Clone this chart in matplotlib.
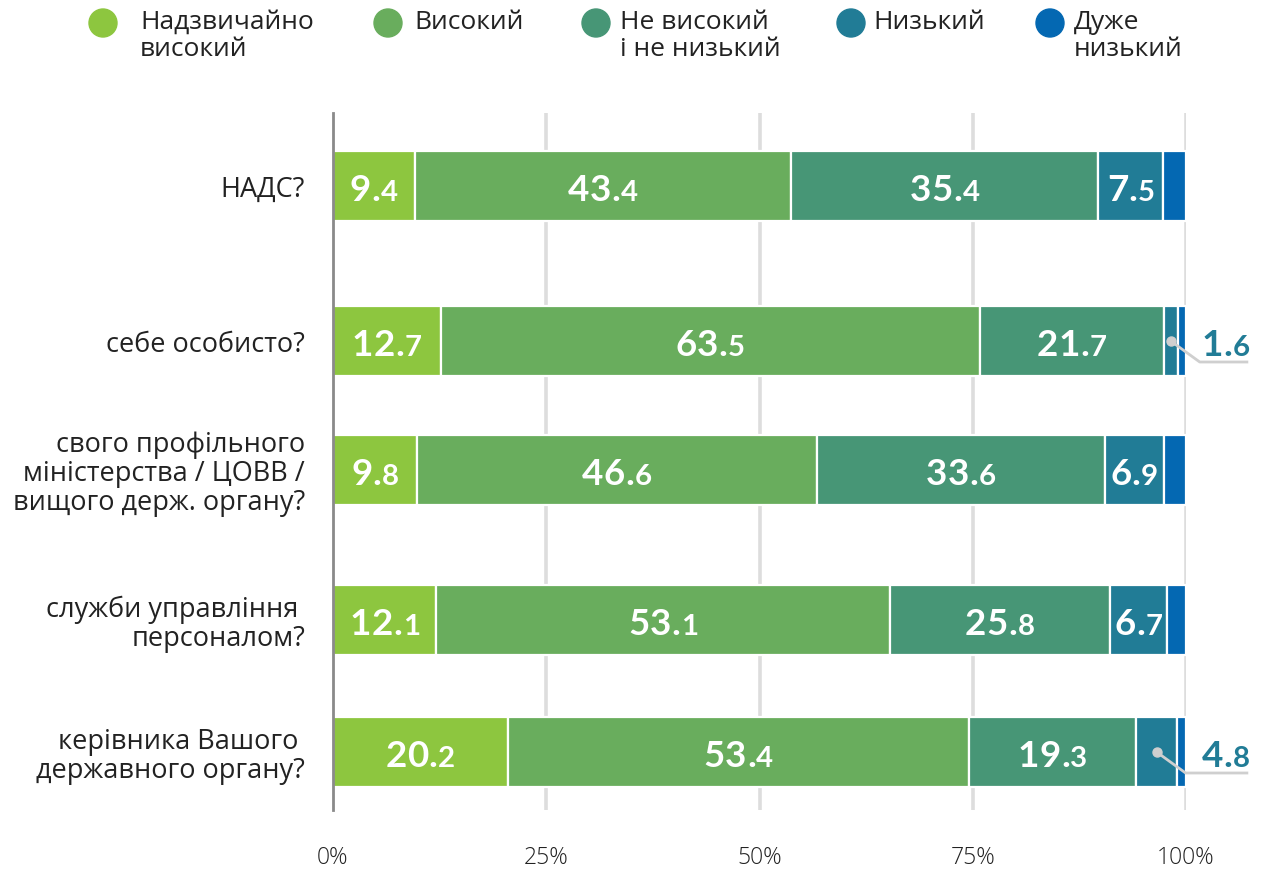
import matplotlib
matplotlib.use("Agg")
import matplotlib.pyplot as plt
from matplotlib.offsetbox import TextArea, HPacker, AnnotationBbox
import numpy as np

plt.rcParams['font.family'] = ['Open Sans', 'DejaVu Sans']

# ---- data ----
categories = [
    "НАДС?",
    "себе особисто?",
    "свого профільного\nміністерства / ЦОВВ /\nвищого держ. органу?",
    "служби управління \nперсоналом?",
    "керівника Вашого \nдержавного органу?",
]
series_names = ["Надзвичайно\nвисокий", "Високий", "Не високий\nі не низький", "Низький", "Дуже\nнизький"]
very_high = [9.4, 12.7, 9.8, 12.1, 20.2]
high = [43.4, 63.5, 46.6, 53.1, 53.4]
neutral = [35.4, 21.7, 33.6, 25.8, 19.3]
low = [7.5, 1.6, 6.9, 6.7, 4.8]
very_low = [2.6, 1.0, 2.6, 2.2, 1.0]   # unlabeled in the chart, estimated
tick_values = [0, 25, 50, 75, 100]
tick_labels = ["0%", "25%", "50%", "75%", "100%"]

# ---- style / layout ----
colors = ["#8DC63F", "#69AD5D", "#479676", "#217C96", "#0468B2"]
text_col = "#222222"
num_font = ['Lato', 'Open Sans', 'DejaVu Sans']
row_pos = [0.0, 1.55, 2.84, 4.34, 5.66]   # layout (row centres)
bar_h = 0.70

fig = plt.figure(figsize=(12.64, 8.71), dpi=100)
ax = fig.add_axes([333/1264, 61/871, 853/1264, 697/871])

series = [very_high, high, neutral, low, very_low]
vals = np.array(series, dtype=float)           # (5 series, 5 rows)
totals = vals.sum(axis=0)
shares = vals / totals * 100.0

left = np.zeros(len(categories))
for i, sv in enumerate(shares):
    ax.barh(row_pos, sv, left=left, height=bar_h, color=colors[i],
            edgecolor="white", linewidth=1.6, zorder=3)
    left = left + sv

ax.set_xlim(0, 100)
ax.set_ylim(6.24, -0.73)

# grid
for v in tick_values[1:]:
    ax.axvline(v, color="#dddddd", lw=2.6, zorder=1)
for s in ["top", "right", "bottom"]:
    ax.spines[s].set_visible(False)
ax.spines["left"].set_color("#8a8a8a")
ax.spines["left"].set_linewidth(2)
ax.spines["left"].set_zorder(4)

ax.set_xticks(tick_values)
ax.set_xticklabels(tick_labels, fontsize=16.5, color=text_col, fontweight='light')
ax.tick_params(axis='x', length=0, pad=26)
ax.set_yticks(row_pos)
ax.set_yticklabels(categories, fontsize=19.5, color=text_col, linespacing=1.05)
ax.tick_params(axis='y', length=0, pad=20)


def num_label(x, y, val, color, dx=0.0, align=(0.5, 0.5), size=26.5):
    s = f"{val:.1f}"
    ip, dp = s.split(".")
    tp = dict(color=color, fontsize=size, fontweight='bold', family=num_font)
    tp2 = dict(color=color, fontsize=size * 0.8, fontweight='bold', family=num_font)
    kids = [TextArea(ch, textprops=tp) for ch in ip]
    kids.append(TextArea(".", textprops=tp))
    kids.append(TextArea(dp, textprops=tp2))
    box = HPacker(children=kids, align="baseline", pad=0, sep=0.3)
    ab = AnnotationBbox(box, (x, y), xycoords='data', xybox=(dx, -3.0),
                        boxcoords='offset points', box_alignment=align,
                        frameon=False, pad=0, annotation_clip=False, zorder=6)
    ax.add_artist(ab)


# bar labels
for r in range(len(categories)):
    cum = 0.0
    for i in range(4):
        w = shares[i, r]
        cx = cum + w / 2
        if w >= 5.5:
            num_label(cx, row_pos[r], vals[i, r], "white")
        else:
            # callout
            y = row_pos[r]
            ex = cx + 3.4
            ey = y + 0.21
            ax.plot([cx, ex, 107.3], [y, ey, ey], color="#cfcfcf", lw=2,
                    zorder=7, clip_on=False, solid_capstyle='butt')
            ax.plot([cx], [y], 'o', color="#cfcfcf", ms=6.5, zorder=7, clip_on=False)
            num_label(101.8, y, vals[i, r], colors[3], align=(0.0, 0.5))
        cum += w

# legend
leg_circle_x = [103, 388, 596, 851, 1050]
leg_text_x = [140, 414, 620, 873, 1074]
for i, name in enumerate(series_names):
    fig.patches.append(matplotlib.patches.Ellipse(
        (leg_circle_x[i] / 1264, 1 - 23 / 871), 28 / 1264, 28 / 871,
        transform=fig.transFigure, color=colors[i]))
    fig.text(leg_text_x[i] / 1264, 1 - 10 / 871, name, fontsize=19, color=text_col,
             ha='left', va='top', linespacing=1.12)

fig.savefig("out.png", dpi=100)
